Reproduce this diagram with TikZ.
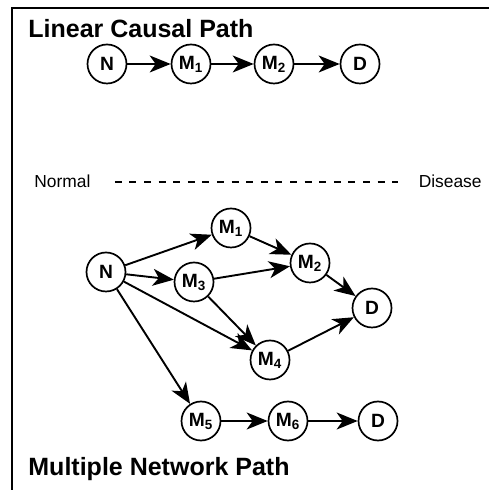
\documentclass[tikz,border=0pt]{standalone}
\usepackage{fontspec}
\setmainfont{Liberation Sans}
\usetikzlibrary{arrows.meta}

\begin{document}
\begin{tikzpicture}[x=0.5pt,y=0.5pt]
  \tikzset{
    cpnode/.style={
      circle,
      draw=black,
      line width=0.85pt,
      fill=white,
      minimum size=19.5pt,
      inner sep=0pt,
      font=\fontsize{9.6}{10}\selectfont\bfseries
    },
    cparrow/.style={
      -{Stealth[length=10.5pt,width=8.5pt,inset=3pt]},
      draw=black,
      line width=0.95pt
    },
    cptitle/.style={font=\fontsize{12.5}{14}\selectfont\bfseries,anchor=base west,inner sep=0pt},
    cpaxis/.style={font=\fontsize{8.7}{10}\selectfont,inner sep=0pt}
  }
  \useasboundingbox (0,0) rectangle (489,490);

  % open frame: top and left rules only
  \draw[line width=0.9pt] (12,0) -- (12,482) -- (489,482);

  % ------------------------------------------------------------------
  % Linear causal path
  % ------------------------------------------------------------------
  \node[cptitle] (linTitle) at (28,452) {Linear Causal Path};

  \node[cpnode] (linN)  at (107,426) {N};
  \node[cpnode] (linM1) at (191,426) {M\textsubscript{1}};
  \node[cpnode] (linM2) at (274,426) {M\textsubscript{2}};
  \node[cpnode] (linD)  at (360,426) {D};

  \draw[cparrow] (linN) -- (linM1);
  \draw[cparrow] (linM1) -- (linM2);
  \draw[cparrow] (linM2) -- (linD);

  % ------------------------------------------------------------------
  % Normal to disease axis
  % ------------------------------------------------------------------
  \node[cpaxis,anchor=base west] (normal) at (34,302) {Normal};
  \node[cpaxis,anchor=base east] (disease) at (482,302) {Disease};
  \draw[line width=1pt,dash pattern=on 3.5pt off 3.8pt,shorten <=12pt,shorten >=10pt]
    (normal.east) -- (disease.west);

  % ------------------------------------------------------------------
  % Multiple network path
  % ------------------------------------------------------------------
  \node[cpnode] (netN)  at (106,218) {N};
  \node[cpnode] (netM1) at (231,262) {M\textsubscript{1}};
  \node[cpnode] (netM3) at (194,208) {M\textsubscript{3}};
  \node[cpnode] (netM2) at (310,227) {M\textsubscript{2}};
  \node[cpnode] (netD)  at (372,182) {D};
  \node[cpnode] (netM4) at (270,130) {M\textsubscript{4}};
  \node[cpnode] (netM5) at (201,69)  {M\textsubscript{5}};
  \node[cpnode] (netM6) at (288,69)  {M\textsubscript{6}};
  \node[cpnode] (endD)  at (378,69)  {D};

  \draw[cparrow] (netN) -- (netM1);
  \draw[cparrow] (netN) -- (netM3);
  \draw[cparrow] (netN) -- (netM4);
  \draw[cparrow] (netN) -- (netM5);
  \draw[cparrow] (netM1) -- (netM2);
  \draw[cparrow] (netM3) -- (netM2);
  \draw[cparrow] (netM3) -- (netM4);
  \draw[cparrow] (netM2) -- (netD);
  \draw[cparrow] (netM4) -- (netD);
  \draw[cparrow] (netM5) -- (netM6);
  \draw[cparrow] (netM6) -- (endD);

  \node[cptitle] (netTitle) at (28,14) {Multiple Network Path};
\end{tikzpicture}
\end{document}
